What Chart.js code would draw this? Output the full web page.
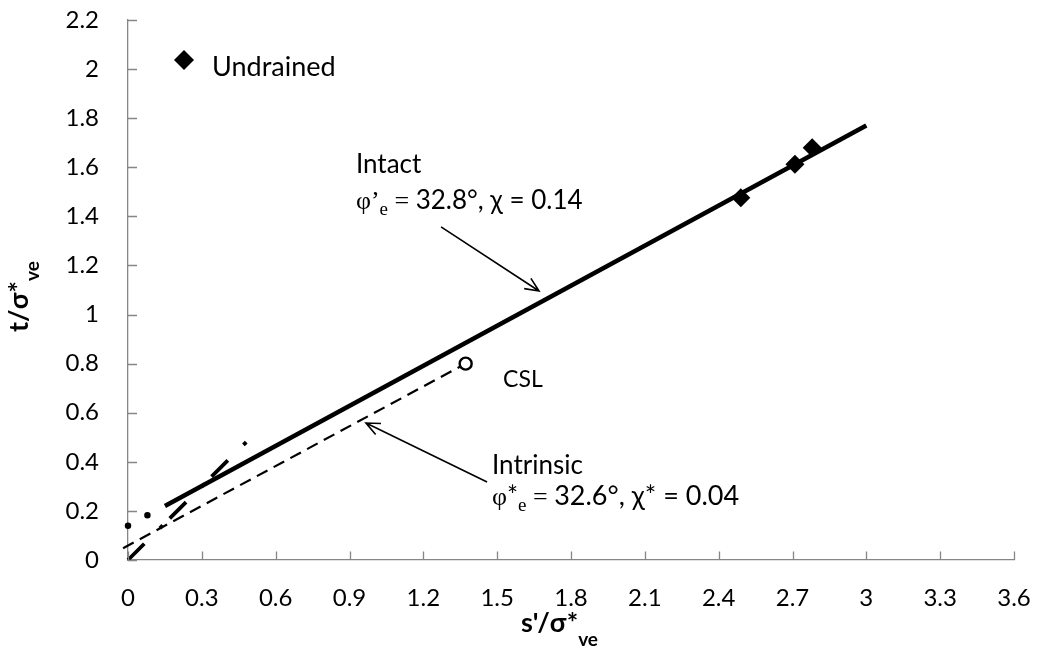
<!DOCTYPE html>
<html>
<head>
<meta charset="utf-8">
<script src="https://cdn.jsdelivr.net/npm/chart.js@4.4.1/dist/chart.umd.min.js"></script>
<style>
  html, body { margin: 0; padding: 0; background: #ffffff; }
  canvas { display: block; }
</style>
</head>
<body>
<canvas id="chart" width="1041" height="663"></canvas>
<script>
// Axis ticks
const xTickValues = [0, 0.3, 0.6, 0.9, 1.2, 1.5, 1.8, 2.1, 2.4, 2.7, 3, 3.3, 3.6];
const xTickLabels = ['0', '0.3', '0.6', '0.9', '1.2', '1.5', '1.8', '2.1', '2.4', '2.7', '3', '3.3', '3.6'];
const yTickValues = [0, 0.2, 0.4, 0.6, 0.8, 1, 1.2, 1.4, 1.6, 1.8, 2, 2.2];
const yTickLabels = ['0', '0.2', '0.4', '0.6', '0.8', '1', '1.2', '1.4', '1.6', '1.8', '2', '2.2'];

// Undrained test results (s'/σ*ve, t/σ*ve)
const undrainedS = [2.49, 2.71, 2.78];
const undrainedT = [1.476, 1.612, 1.680];

// Intact failure envelope
const intactS = [0.15, 3.0];
const intactT = [0.22, 1.77];

// Intact envelope carried back to the t axis
const intactExtS = [0, 0.15];
const intactExtT = [0.14, 0.22];

// Intrinsic envelope
const intrinsicS = [-0.02, 1.40];
const intrinsicT = [0.048, 0.815];

// Critical state point
const cslS = [1.372];
const cslT = [0.80];

// t = s' reference line
const unitS = [0, 0.49];
const unitT = [0, 0.49];

const SANS = 'Lato';
const SERIF = '"Liberation Serif"';
const AXIS_COLOR = '#868686';

const pts = (xs, ys) => xs.map((x, i) => ({ x: x, y: ys[i] }));

function drawRuns(ctx, x, y, runs) {
  let cx = x;
  for (const r of runs) {
    ctx.font = r.font;
    ctx.fillText(r.text, cx, y + (r.dy || 0));
    cx += ctx.measureText(r.text).width;
  }
  return cx;
}

function arrow(ctx, x1, y1, x2, y2) {
  const a = Math.atan2(y2 - y1, x2 - x1);
  const len = 15, spread = 0.42;
  ctx.beginPath();
  ctx.moveTo(x1, y1);
  ctx.lineTo(x2, y2);
  ctx.moveTo(x2 - len * Math.cos(a - spread), y2 - len * Math.sin(a - spread));
  ctx.lineTo(x2, y2);
  ctx.lineTo(x2 - len * Math.cos(a + spread), y2 - len * Math.sin(a + spread));
  ctx.stroke();
}

const decorations = {
  id: 'decorations',
  afterDraw(chart) {
    const { ctx, chartArea: area, scales: { x, y } } = chart;
    const X = v => x.getPixelForValue(v);
    const Y = v => y.getPixelForValue(v);
    ctx.save();

    // inward tick marks
    ctx.strokeStyle = AXIS_COLOR;
    ctx.lineWidth = 1.3;
    ctx.beginPath();
    xTickValues.forEach(v => {
      const px = Math.round(X(v)) + 0.5;
      ctx.moveTo(px, area.bottom);
      ctx.lineTo(px, area.bottom - 8.5);
    });
    yTickValues.forEach(v => {
      const py = Math.round(Y(v)) + 0.5;
      ctx.moveTo(area.left, py);
      ctx.lineTo(area.left + 9, py);
    });
    ctx.stroke();

    ctx.fillStyle = '#000';
    ctx.textBaseline = 'alphabetic';
    ctx.textAlign = 'left';

    // legend
    const lx = area.left + 56, ly = area.top + 40;
    ctx.beginPath();
    ctx.moveTo(lx - 10, ly);
    ctx.lineTo(lx, ly - 10);
    ctx.lineTo(lx + 10, ly);
    ctx.lineTo(lx, ly + 10);
    ctx.closePath();
    ctx.fill();
    ctx.font = `27px ${SANS}`;
    ctx.fillText('Undrained', lx + 28, ly + 16);

    // axis titles
    drawRuns(ctx, area.left + 393, area.bottom + 72, [
      { text: "s'/σ*", font: `bold 27px ${SANS}` },
      { text: 've', font: `bold 19px ${SANS}`, dy: 14 }
    ]);

    ctx.save();
    ctx.translate(28, area.bottom - 228);
    ctx.rotate(-Math.PI / 2);
    drawRuns(ctx, 0, 0, [
      { text: 't/σ*', font: `bold 27px ${SANS}` },
      { text: 've', font: `bold 19px ${SANS}`, dy: 11 }
    ]);
    ctx.restore();

    // envelope annotations
    ctx.font = `26px ${SANS}`;
    ctx.fillText('Intact', X(0.926), Y(1.577));
    drawRuns(ctx, X(0.926), Y(1.430), [
      { text: 'φ', font: `26px ${SERIF}` },
      { text: '’', font: `26px ${SERIF}` },
      { text: 'e', font: `19px ${SERIF}`, dy: 6 },
      { text: ' = ', font: `26px ${SERIF}` },
      { text: '32.8°, χ = 0.14', font: `26px ${SANS}` }
    ]);

    ctx.font = `26px ${SANS}`;
    ctx.fillText('Intrinsic', X(1.479), Y(0.350));
    drawRuns(ctx, X(1.479), Y(0.224), [
      { text: 'φ', font: `26px ${SERIF}` },
      { text: '*', font: `26px ${SANS}` },
      { text: 'e', font: `19px ${SERIF}`, dy: 6 },
      { text: ' = ', font: `26px ${SERIF}` },
      { text: '32.6°, χ* = 0.04', font: `27px ${SANS}` }
    ]);

    ctx.font = `23px ${SANS}`;
    ctx.fillText('CSL', X(1.524), Y(0.705));

    // pointer arrows
    ctx.strokeStyle = '#000';
    ctx.lineWidth = 1.6;
    arrow(ctx, X(1.272), Y(1.357), X(1.670), Y(1.096));
    arrow(ctx, X(1.459), Y(0.318), X(0.967), Y(0.558));

    ctx.restore();
  }
};

function build() {
  new Chart(document.getElementById('chart'), {
    type: 'scatter',
    data: {
      datasets: [
        {
          label: 'Undrained',
          data: pts(undrainedS, undrainedT),
          pointStyle: 'rectRot',
          pointRadius: 9.5,
          backgroundColor: '#000',
          borderColor: '#000',
          borderWidth: 0,
          showLine: false
        },
        {
          label: 'CSL',
          data: pts(cslS, cslT),
          pointStyle: 'circle',
          pointRadius: 6,
          backgroundColor: '#ffffff',
          borderColor: '#000',
          borderWidth: 2.4,
          showLine: false
        },
        {
          label: 'Intact',
          data: pts(intactS, intactT),
          showLine: true,
          borderColor: '#000',
          borderWidth: 4.5,
          borderCapStyle: 'butt',
          pointRadius: 0
        },
        {
          label: 'Intact (extended)',
          data: pts(intactExtS, intactExtT),
          showLine: true,
          borderColor: '#000',
          borderWidth: 6.5,
          borderDash: [0, 22],
          borderCapStyle: 'round',
          pointRadius: 0,
          clip: false
        },
        {
          label: 'Intrinsic',
          data: pts(intrinsicS, intrinsicT),
          showLine: true,
          borderColor: '#000',
          borderWidth: 2.2,
          borderDash: [12, 7],
          pointRadius: 0,
          clip: false
        },
        {
          label: "t = s'",
          data: pts(unitS, unitT),
          showLine: true,
          borderColor: '#000',
          borderWidth: 3.8,
          borderDash: [23, 22, 4, 10],
          pointRadius: 0,
          clip: false
        }
      ]
    },
    options: {
      responsive: false,
      animation: false,
      events: [],
      layout: { padding: { top: 20, right: 27, left: 0, bottom: 0 } },
      plugins: {
        legend: { display: false },
        tooltip: { enabled: false }
      },
      scales: {
        x: {
          type: 'linear',
          min: 0,
          max: 3.6,
          afterBuildTicks: s => { s.ticks = xTickValues.map(v => ({ value: v })); },
          afterFit: s => { s.height = 103; s.paddingLeft = 0; s.paddingRight = 0; },
          ticks: {
            autoSkip: false,
            maxRotation: 0,
            padding: 24,
            color: '#000',
            font: { family: SANS, size: 24 },
            callback: (v, i) => xTickLabels[i]
          },
          grid: { display: false, drawTicks: false },
          border: { display: true, color: AXIS_COLOR, width: 1.3 }
        },
        y: {
          type: 'linear',
          min: 0,
          max: 2.2,
          afterBuildTicks: s => { s.ticks = yTickValues.map(v => ({ value: v })); },
          afterFit: s => { s.width = 128; s.paddingTop = 0; s.paddingBottom = 0; },
          ticks: {
            autoSkip: false,
            padding: 29,
            color: '#000',
            font: { family: SANS, size: 24 },
            callback: (v, i) => yTickLabels[i]
          },
          grid: { display: false, drawTicks: false },
          border: { display: true, color: AXIS_COLOR, width: 1.3 }
        }
      }
    },
    plugins: [decorations]
  });
}

Promise.all([
  document.fonts.load(`24px ${SANS}`),
  document.fonts.load(`bold 25px ${SANS}`),
  document.fonts.load(`26px ${SERIF}`)
]).then(build, build);
</script>
</body>
</html>
